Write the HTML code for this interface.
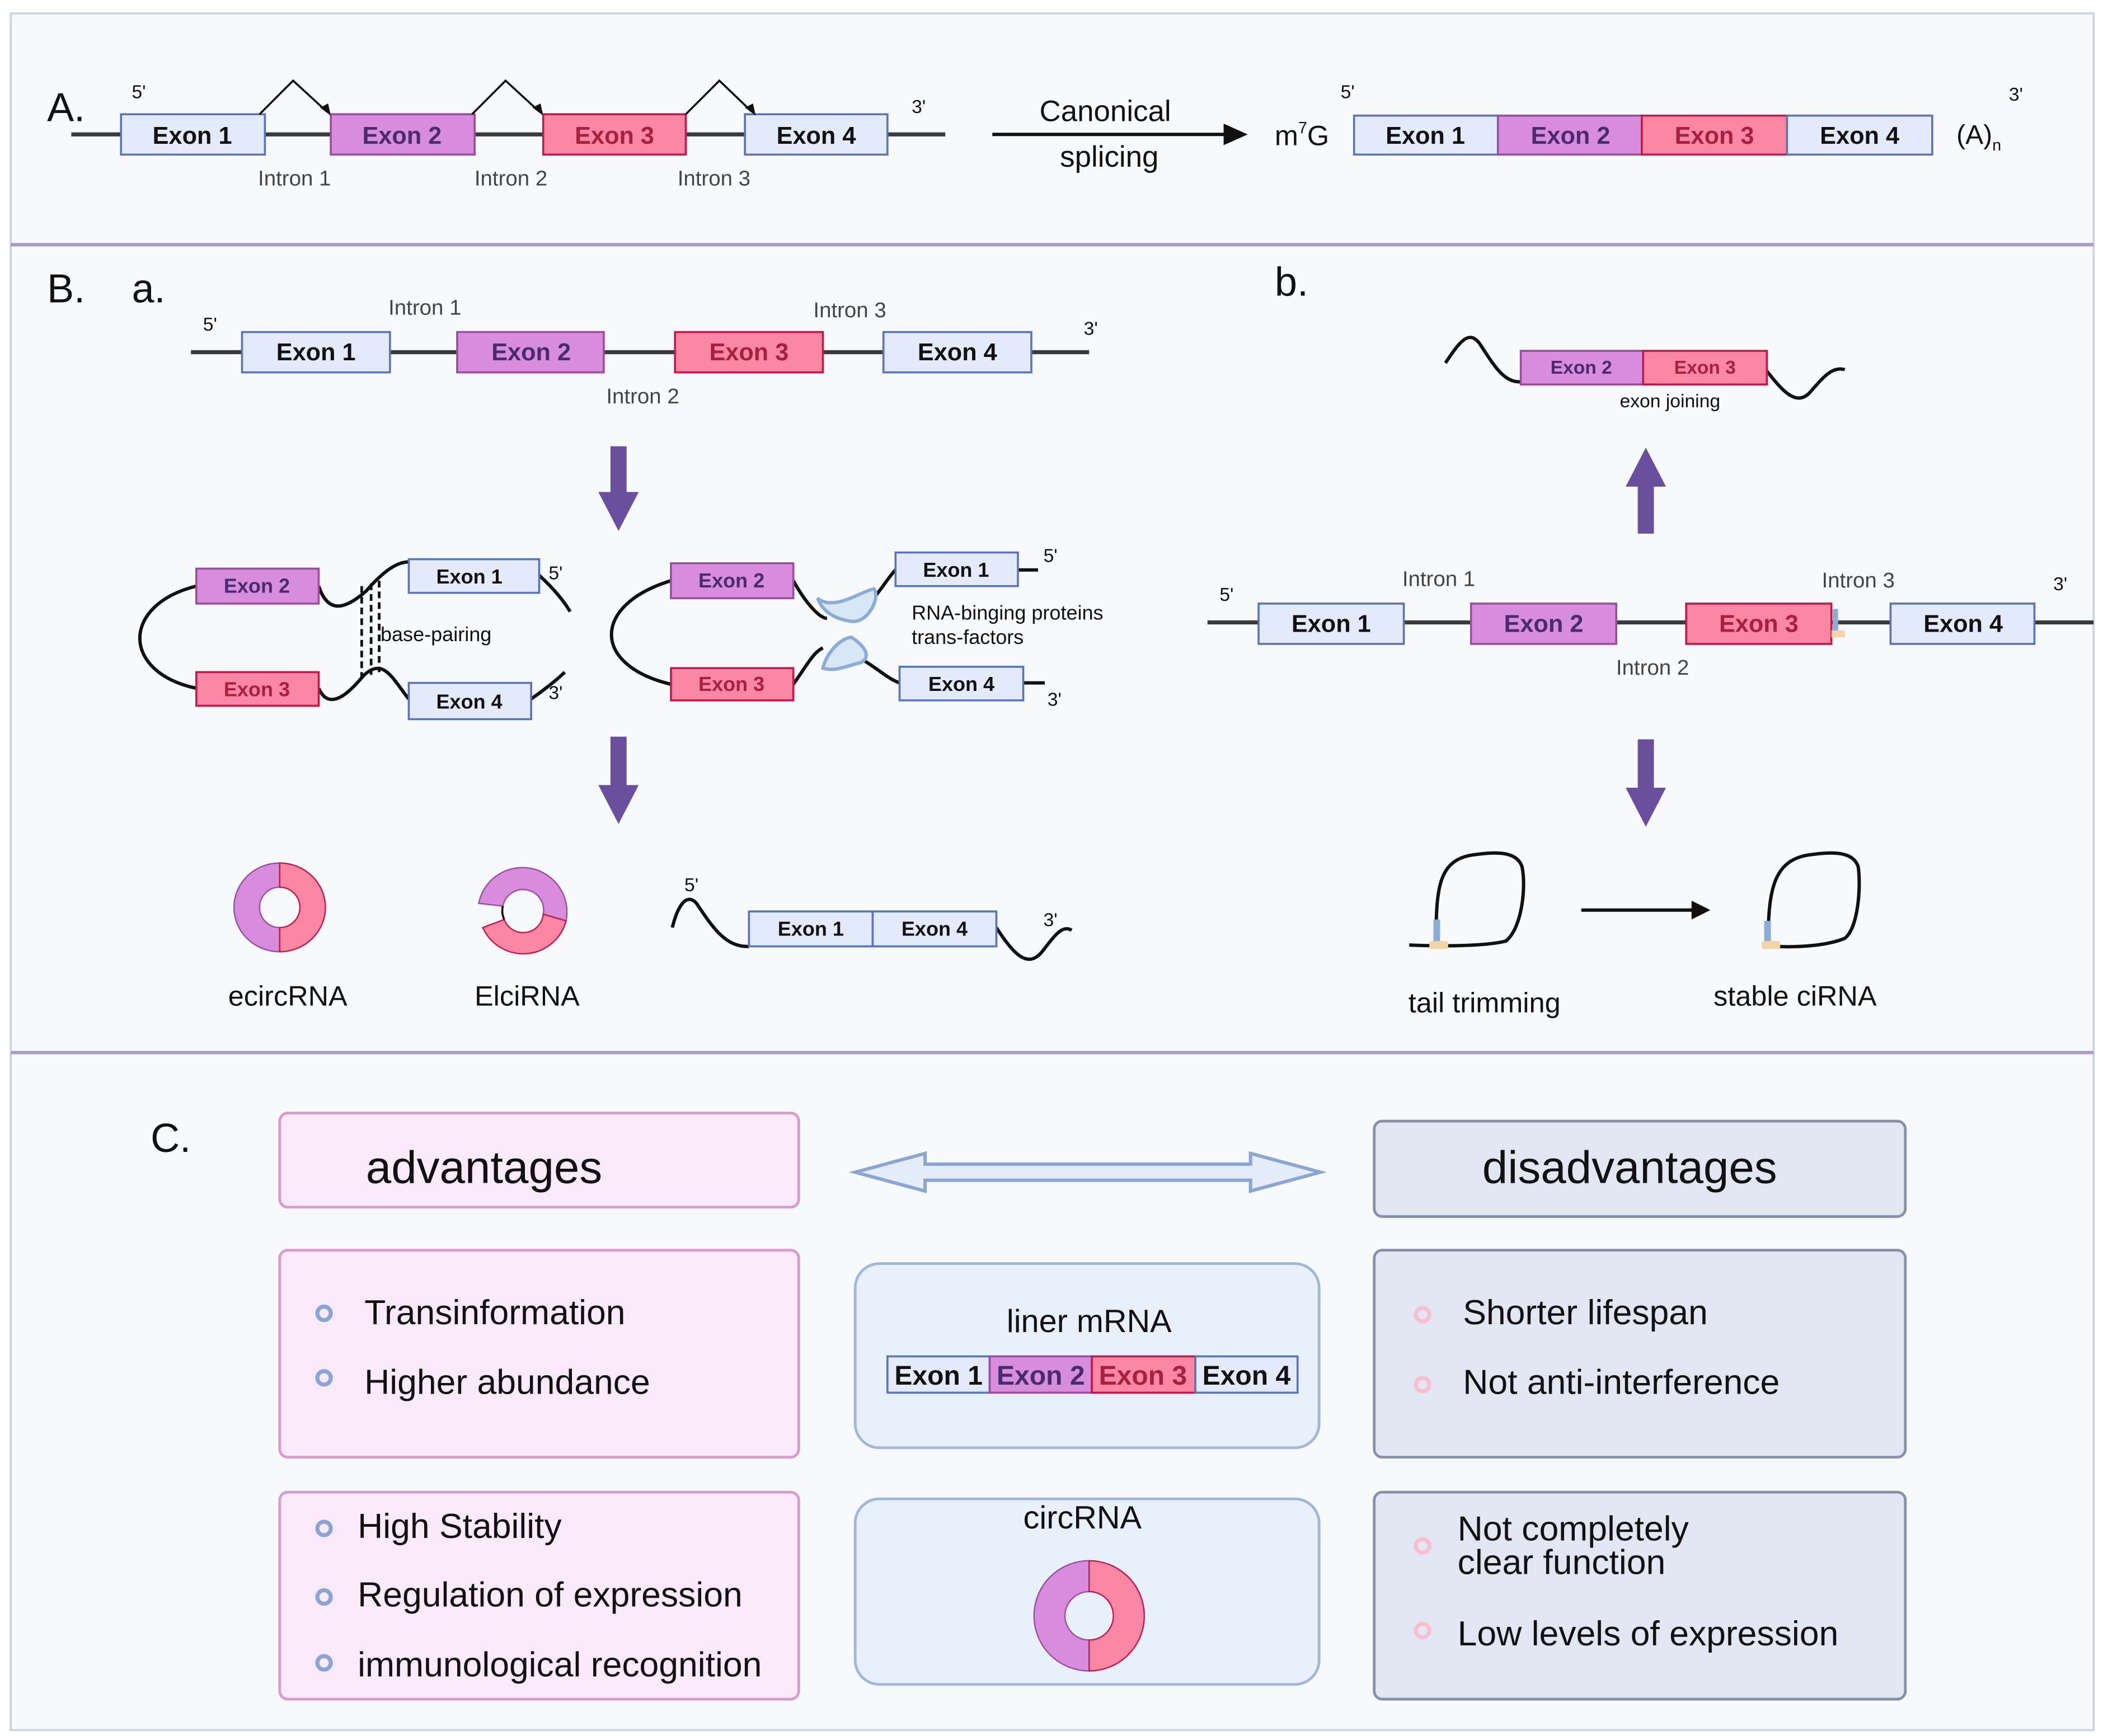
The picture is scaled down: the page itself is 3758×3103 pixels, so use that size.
<!DOCTYPE html>
<html><head><meta charset="utf-8"><style>
html,body{margin:0;padding:0;background:#fff}
svg{display:block}
text{font-family:"Liberation Sans",sans-serif}
.e1{fill:#e3ebfa;stroke:#5b73b8;stroke-width:1.5}
.e2{fill:#d88ddc;stroke:#9a4ca0;stroke-width:1.5}
.e3{fill:#fc87a5;stroke:#c2184a;stroke-width:1.5}
.t1{fill:#111;font-weight:bold}
.t2{fill:#4a2a70;font-weight:bold}
.t3{fill:#a8203e;font-weight:bold}
.ln{stroke:#3a3a3a;stroke-width:3;fill:none}
.cv{stroke:#111;stroke-width:2.5;fill:none}
.g{fill:#444}
</style></head><body>
<svg width="3758" height="3103" viewBox="0 0 1564 1291.4" preserveAspectRatio="none" xmlns="http://www.w3.org/2000/svg">
<rect x="0" y="0" width="1564" height="1292" fill="#fff"/>
<rect x="8" y="10" width="1549" height="1277" fill="#f7fafd" stroke="#c9d3e6" stroke-width="1.5"/>
<line x1="8" y1="182" x2="1557" y2="182" stroke="#a99ac6" stroke-width="2.5"/>
<line x1="8" y1="783" x2="1557" y2="783" stroke="#a99ac6" stroke-width="2.5"/>

<!-- Section A -->
<text x="35" y="90" font-size="30" fill="#111">A.</text>
<line x1="53" y1="100" x2="703" y2="100" class="ln"/>
<rect x="90" y="85" width="107" height="30" class="e1"/><text x="143" y="107" font-size="18" text-anchor="middle" class="t1">Exon 1</text>
<rect x="246" y="85" width="107" height="30" class="e2"/><text x="299" y="107" font-size="18" text-anchor="middle" class="t2">Exon 2</text>
<rect x="404" y="85" width="106" height="30" class="e3"/><text x="457" y="107" font-size="18" text-anchor="middle" class="t3">Exon 3</text>
<rect x="554" y="85" width="106" height="30" class="e1"/><text x="607" y="107" font-size="18" text-anchor="middle" class="t1">Exon 4</text>
<g stroke="#111" stroke-width="1.5" fill="none">
<polyline points="193,85 218,60 243,83"/><polyline points="351,85 376,60 401,83"/><polyline points="510,85 535,60 559,83"/>
</g>
<g fill="#111"><polygon points="246,86 238,80 244,77"/><polygon points="404,86 396,80 402,77"/><polygon points="562,86 554,80 560,77"/></g>
<text x="98" y="73" font-size="14" fill="#111">5'</text><text x="678" y="84" font-size="14" fill="#111">3'</text>
<g font-size="16" class="g" text-anchor="middle"><text x="219" y="138">Intron 1</text><text x="380" y="138">Intron 2</text><text x="531" y="138">Intron 3</text></g>
<text x="822" y="90" font-size="22" text-anchor="middle" fill="#111">Canonical</text>
<text x="825" y="124" font-size="22" text-anchor="middle" fill="#111">splicing</text>
<line x1="738" y1="100" x2="912" y2="100" stroke="#111" stroke-width="2.5"/><polygon points="928,100 910,92 910,108" fill="#111"/>
<text x="948" y="108" font-size="21" fill="#111">m<tspan font-size="12" dy="-9">7</tspan><tspan dy="9">G</tspan></text>
<rect x="1007" y="86" width="107" height="29" class="e1"/><text x="1060" y="107" font-size="18" text-anchor="middle" class="t1">Exon 1</text>
<rect x="1114" y="86" width="107" height="29" class="e2"/><text x="1168" y="107" font-size="18" text-anchor="middle" class="t2">Exon 2</text>
<rect x="1221" y="86" width="108" height="29" class="e3"/><text x="1275" y="107" font-size="18" text-anchor="middle" class="t3">Exon 3</text>
<rect x="1329" y="86" width="108" height="29" class="e1"/><text x="1383" y="107" font-size="18" text-anchor="middle" class="t1">Exon 4</text>
<text x="997" y="73" font-size="14" fill="#111">5'</text><text x="1494" y="75" font-size="14" fill="#111">3'</text>
<text x="1455" y="107" font-size="20" fill="#111">(A)<tspan font-size="12" dy="5">n</tspan></text>

<!-- Section B a -->
<text x="35" y="225" font-size="30" fill="#111">B.</text>
<text x="98" y="225" font-size="30" fill="#111">a.</text>
<line x1="142" y1="262" x2="810" y2="262" class="ln"/>
<rect x="180" y="247" width="110" height="30" class="e1"/><text x="235" y="268" font-size="18" text-anchor="middle" class="t1">Exon 1</text>
<rect x="340" y="247" width="109" height="30" class="e2"/><text x="395" y="268" font-size="18" text-anchor="middle" class="t2">Exon 2</text>
<rect x="502" y="247" width="110" height="30" class="e3"/><text x="557" y="268" font-size="18" text-anchor="middle" class="t3">Exon 3</text>
<rect x="657" y="247" width="110" height="30" class="e1"/><text x="712" y="268" font-size="18" text-anchor="middle" class="t1">Exon 4</text>
<g font-size="16" class="g" text-anchor="middle"><text x="316" y="234">Intron 1</text><text x="632" y="236">Intron 3</text><text x="478" y="300">Intron 2</text></g>
<text x="151" y="246" font-size="14" fill="#111">5'</text><text x="806" y="249" font-size="14" fill="#111">3'</text>
<g fill="#6b4f9f">
<polygon points="454,332 466,332 466,366 475,366 460,395 445,366 454,366"/>
<polygon points="454,548 466,548 466,584 475,584 460,613 445,584 454,584"/>
<polygon points="1218,397 1230,397 1230,362 1239,362 1224,333 1209,362 1218,362"/>
<polygon points="1218,550 1230,550 1230,586 1239,586 1224,615 1209,586 1218,586"/>
</g>
<!-- left loop -->
<path class="cv" d="M146,436 C90,450 90,500 146,512"/>
<path class="cv" d="M237,436 C245,460 260,450 272,440 C285,425 295,418 304,418"/>
<path class="cv" d="M237,512 C245,530 260,515 270,503 C285,488 292,505 304,520"/>
<path class="cv" d="M401,428 C412,438 420,448 424,455"/>
<path class="cv" d="M395,520 C405,513 415,505 420,500"/>
<g stroke="#111" stroke-width="2" stroke-dasharray="5,3"><line x1="269" y1="436" x2="269" y2="505"/><line x1="276" y1="434" x2="276" y2="502"/><line x1="282" y1="432" x2="282" y2="500"/></g>
<rect x="146" y="423" width="91" height="26" class="e2"/><text x="191" y="441" font-size="15" text-anchor="middle" class="t2">Exon 2</text>
<rect x="146" y="500" width="91" height="25" class="e3"/><text x="191" y="518" font-size="15" text-anchor="middle" class="t3">Exon 3</text>
<rect x="304" y="416" width="97" height="25" class="e1"/><text x="349" y="434" font-size="15" text-anchor="middle" class="t1">Exon 1</text>
<rect x="304" y="508" width="91" height="27" class="e1"/><text x="349" y="527" font-size="15" text-anchor="middle" class="t1">Exon 4</text>
<text x="408" y="431" font-size="14" fill="#111">5'</text><text x="408" y="520" font-size="14" fill="#111">3'</text>
<text x="283" y="477" font-size="15" fill="#111">base-pairing</text>
<!-- middle -->
<path class="cv" d="M499,432 C440,450 440,495 499,509"/>
<path class="cv" d="M590,432 C600,450 610,460 615,460"/>
<path class="cv" d="M645,450 C655,440 660,430 666,424"/>
<path class="cv" d="M590,509 C600,495 605,485 612,482"/>
<path class="cv" d="M640,490 C650,495 660,505 669,508"/>
<line x1="757" y1="424" x2="772" y2="424" stroke="#111" stroke-width="2.5"/>
<line x1="761" y1="508" x2="777" y2="508" stroke="#111" stroke-width="2.5"/>
<path d="M608,445 C620,455 640,440 650,438 C655,445 645,465 632,462 C620,460 612,455 608,445Z" fill="#d8e6f6" stroke="#8cacd8" stroke-width="2.5"/>
<path d="M612,497 C615,485 625,475 633,474 C640,478 650,488 640,493 C630,495 622,500 612,497Z" fill="#d8e6f6" stroke="#8cacd8" stroke-width="2.5"/>
<rect x="499" y="419" width="91" height="26" class="e2"/><text x="544" y="437" font-size="15" text-anchor="middle" class="t2">Exon 2</text>
<rect x="499" y="497" width="91" height="24" class="e3"/><text x="544" y="514" font-size="15" text-anchor="middle" class="t3">Exon 3</text>
<rect x="666" y="411" width="91" height="25" class="e1"/><text x="711" y="429" font-size="15" text-anchor="middle" class="t1">Exon 1</text>
<rect x="669" y="496" width="92" height="25" class="e1"/><text x="715" y="514" font-size="15" text-anchor="middle" class="t1">Exon 4</text>
<text x="776" y="418" font-size="14" fill="#111">5'</text><text x="779" y="525" font-size="14" fill="#111">3'</text>
<text x="678" y="461" font-size="15" fill="#111">RNA-binging proteins</text>
<text x="678" y="479" font-size="15" fill="#111">trans-factors</text>
<!-- rings -->
<path d="M208,642 A34,33 0 0,0 208,708 L208,690 A15,15 0 0,1 208,660 Z" fill="#d88ddc" stroke="#9a4ca0" stroke-width="1"/>
<path d="M208,642 A34,33 0 0,1 208,708 L208,690 A15,15 0 0,0 208,660 Z" fill="#fc87a5" stroke="#c2184a" stroke-width="1"/>
<text x="214" y="748" font-size="21" text-anchor="middle" fill="#111">ecircRNA</text>
<path d="M356,672 A33,33 0 0,1 421,685 L404,680 A15,15 0 0,0 374,674 Z" fill="#d88ddc" stroke="#9a4ca0" stroke-width="1"/>
<path d="M421,685 A33,33 0 0,1 359,690 L375,684 A15,15 0 0,0 404,680 Z" fill="#fc87a5" stroke="#c2184a" stroke-width="1"/>
<path d="M374,674 A15,15 0 0,0 375,684" stroke="#111" stroke-width="1.5" fill="none"/>
<text x="392" y="748" font-size="21" text-anchor="middle" fill="#111">ElciRNA</text>
<path class="cv" d="M500,690 C505,670 512,665 518,672 C530,690 540,705 557,704"/>
<path class="cv" d="M741,690 C755,712 765,720 775,708 C785,695 790,688 797,692"/>
<rect x="557" y="678" width="92" height="26" class="e1"/><text x="603" y="696" font-size="15" text-anchor="middle" class="t1">Exon 1</text>
<rect x="649" y="678" width="92" height="26" class="e1"/><text x="695" y="696" font-size="15" text-anchor="middle" class="t1">Exon 4</text>
<text x="509" y="663" font-size="14" fill="#111">5'</text><text x="776" y="689" font-size="14" fill="#111">3'</text>

<!-- Section B b -->
<text x="948" y="220" font-size="30" fill="#111">b.</text>
<path class="cv" d="M1075,270 C1085,255 1092,245 1100,255 C1110,270 1118,285 1131,284"/>
<path class="cv" d="M1314,276 C1325,290 1335,302 1345,293 C1355,282 1362,272 1372,275"/>
<rect x="1131" y="261" width="91" height="25" class="e2"/><text x="1176" y="278" font-size="14" text-anchor="middle" class="t2">Exon 2</text>
<rect x="1222" y="261" width="92" height="25" class="e3"/><text x="1268" y="278" font-size="14" text-anchor="middle" class="t3">Exon 3</text>
<text x="1242" y="303" font-size="14" text-anchor="middle" fill="#111">exon joining</text>
<line x1="898" y1="463" x2="1557" y2="463" class="ln"/>
<rect x="936" y="449" width="108" height="30" class="e1"/><text x="990" y="470" font-size="18" text-anchor="middle" class="t1">Exon 1</text>
<rect x="1094" y="449" width="108" height="30" class="e2"/><text x="1148" y="470" font-size="18" text-anchor="middle" class="t2">Exon 2</text>
<rect x="1254" y="449" width="108" height="30" class="e3"/><text x="1308" y="470" font-size="18" text-anchor="middle" class="t3">Exon 3</text>
<rect x="1406" y="449" width="107" height="30" class="e1"/><text x="1460" y="470" font-size="18" text-anchor="middle" class="t1">Exon 4</text>
<rect x="1363" y="453" width="4" height="16" fill="#8cacd8"/><rect x="1362" y="469" width="10" height="5" fill="#f5d3a8"/>
<g font-size="16" class="g" text-anchor="middle"><text x="1070" y="436">Intron 1</text><text x="1382" y="437">Intron 3</text><text x="1229" y="502">Intron 2</text></g>
<text x="907" y="447" font-size="14" fill="#111">5'</text><text x="1527" y="439" font-size="14" fill="#111">3'</text>
<!-- loops -->
<path class="cv" d="M1048,703 C1070,704 1105,704 1120,700 C1132,690 1135,660 1132,645 C1128,632 1110,634 1095,636 C1070,640 1068,660 1068,700"/>
<rect x="1066" y="684" width="5" height="18" fill="#8cacd8"/><rect x="1063" y="700" width="14" height="6" rx="2" fill="#f5d3a8"/>
<line x1="1176" y1="677" x2="1260" y2="677" stroke="#111" stroke-width="2.5"/><polygon points="1272,677 1258,670 1258,684" fill="#111"/>
<path class="cv" d="M1320,704 C1340,705 1360,703 1372,698 C1382,690 1384,660 1382,645 C1378,632 1360,634 1345,636 C1320,640 1315,660 1315,700"/>
<rect x="1312" y="685" width="5" height="16" fill="#8cacd8"/><rect x="1310" y="700" width="14" height="6" rx="2" fill="#f5d3a8"/>
<text x="1104" y="753" font-size="21" text-anchor="middle" fill="#111">tail trimming</text>
<text x="1335" y="748" font-size="21" text-anchor="middle" fill="#111">stable ciRNA</text>

<!-- Section C -->
<text x="112" y="857" font-size="30" fill="#111">C.</text>
<rect x="208" y="828" width="386" height="70" rx="6" fill="#fae9fa" stroke="#d89bcc" stroke-width="2"/>
<text x="360" y="880" font-size="34" text-anchor="middle" fill="#111">advantages</text>
<rect x="1022" y="834" width="395" height="71" rx="6" fill="#e1e6f2" stroke="#8790a8" stroke-width="2"/>
<text x="1212" y="880" font-size="34" text-anchor="middle" fill="#111">disadvantages</text>
<polygon points="636,872 688,858 688,866 930,866 930,858 982,872 930,886 930,878 688,878 688,886" fill="#e3ecf8" stroke="#8aa4d4" stroke-width="2.5"/>

<rect x="208" y="930" width="386" height="154" rx="6" fill="#fae9fa" stroke="#d89bcc" stroke-width="2"/>
<circle cx="241" cy="977" r="5" fill="none" stroke="#8aa4d4" stroke-width="3"/><circle cx="241" cy="1025" r="5" fill="none" stroke="#8aa4d4" stroke-width="3"/>
<text x="271" y="985" font-size="26" fill="#111">Transinformation</text>
<text x="271" y="1037" font-size="26" fill="#111">Higher abundance</text>

<rect x="636" y="940" width="345" height="137" rx="18" fill="#e8f0fb" stroke="#9fb7dc" stroke-width="2"/>
<text x="810" y="991" font-size="24" text-anchor="middle" fill="#111">liner mRNA</text>
<rect x="660" y="1009" width="76" height="27" class="e1"/><text x="698" y="1030" font-size="20" text-anchor="middle" class="t1">Exon 1</text>
<rect x="736" y="1009" width="76" height="27" class="e2"/><text x="774" y="1030" font-size="20" text-anchor="middle" class="t2">Exon 2</text>
<rect x="812" y="1009" width="77" height="27" class="e3"/><text x="850" y="1030" font-size="20" text-anchor="middle" class="t3">Exon 3</text>
<rect x="889" y="1009" width="76" height="27" class="e1"/><text x="927" y="1030" font-size="20" text-anchor="middle" class="t1">Exon 4</text>

<rect x="1022" y="930" width="395" height="154" rx="6" fill="#e1e6f2" stroke="#8790a8" stroke-width="2"/>
<circle cx="1058" cy="978" r="5" fill="none" stroke="#f8c0cf" stroke-width="3"/><circle cx="1058" cy="1030" r="5" fill="none" stroke="#f8c0cf" stroke-width="3"/>
<text x="1088" y="985" font-size="26" fill="#111">Shorter lifespan</text>
<text x="1088" y="1037" font-size="26" fill="#111">Not anti-interference</text>

<rect x="208" y="1110" width="386" height="154" rx="6" fill="#fae9fa" stroke="#d89bcc" stroke-width="2"/>
<circle cx="241" cy="1137" r="5" fill="none" stroke="#8aa4d4" stroke-width="3"/><circle cx="241" cy="1188" r="5" fill="none" stroke="#8aa4d4" stroke-width="3"/><circle cx="241" cy="1237" r="5" fill="none" stroke="#8aa4d4" stroke-width="3"/>
<text x="266" y="1144" font-size="26" fill="#111">High Stability</text>
<text x="266" y="1195" font-size="26" fill="#111">Regulation of expression</text>
<text x="266" y="1247" font-size="26" fill="#111">immunological recognition</text>

<rect x="636" y="1115" width="345" height="138" rx="18" fill="#e8f0fb" stroke="#9fb7dc" stroke-width="2"/>
<text x="805" y="1137" font-size="24" text-anchor="middle" fill="#111">circRNA</text>
<path d="M810,1161 A41,41 0 0,0 810,1243 L810,1220 A18,18 0 0,1 810,1184 Z" fill="#d88ddc" stroke="#9a4ca0" stroke-width="1"/>
<path d="M810,1161 A41,41 0 0,1 810,1243 L810,1220 A18,18 0 0,0 810,1184 Z" fill="#fc87a5" stroke="#c2184a" stroke-width="1"/>

<rect x="1022" y="1110" width="395" height="154" rx="6" fill="#e1e6f2" stroke="#8790a8" stroke-width="2"/>
<circle cx="1058" cy="1150" r="5" fill="none" stroke="#f8c0cf" stroke-width="3"/><circle cx="1058" cy="1213" r="5" fill="none" stroke="#f8c0cf" stroke-width="3"/>
<text x="1084" y="1146" font-size="26" fill="#111">Not completely</text>
<text x="1084" y="1171" font-size="26" fill="#111">clear function</text>
<text x="1084" y="1224" font-size="26" fill="#111">Low levels of expression</text>
</svg>
</body></html>
